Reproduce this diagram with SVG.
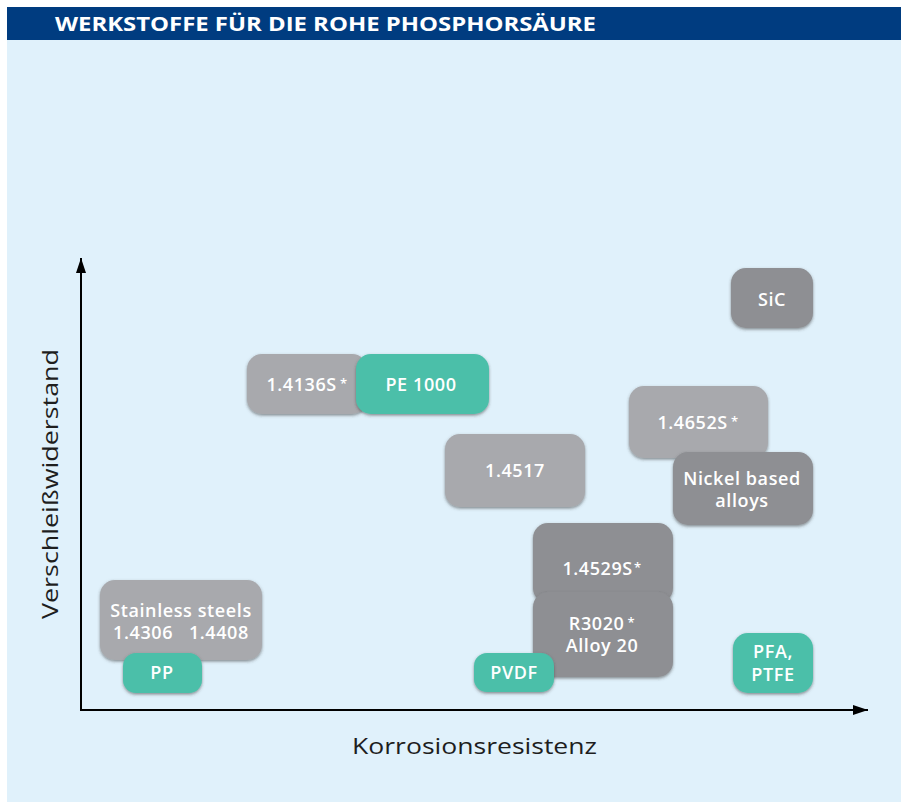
<svg xmlns="http://www.w3.org/2000/svg" width="901" height="802" viewBox="0 0 901 802">
  <style>
    .title { font-family: "Open Sans", "Liberation Sans", sans-serif; font-weight: 700; font-size: 20px; fill: #ffffff; }
    .axis-label { font-family: "Open Sans", "Liberation Sans", sans-serif; font-size: 21.5px; fill: #1e1e1e; }
    .lbl { font-family: "Open Sans", "Liberation Sans", sans-serif; font-size: 18px; font-weight: 600; fill: #ffffff; text-anchor: middle; letter-spacing: 0.6px; }
    .ast { font-size: 13px; }
    .light { fill: #a8a9ad; }
    .dark { fill: #8e8f93; }
    .teal { fill: #4bbfa9; }
    .box { filter: url(#shadow); }
    .axis { stroke: #000000; stroke-width: 2; fill: none; }
  </style>
  <defs>
    <filter id="shadow" x="-20%" y="-20%" width="140%" height="150%">
      <feDropShadow dx="0" dy="1.5" stdDeviation="1.6" flood-color="#3a3a3a" flood-opacity="0.55"/>
    </filter>
    <marker id="arrow" viewBox="0 0 15 10" refX="15" refY="5" markerWidth="7.5" markerHeight="5" markerUnits="strokeWidth" orient="auto">
      <path d="M0,0 L15,5 L0,10 Z" fill="#000000"/>
    </marker>
  </defs>

  <!-- background panel and header bar -->
  <rect x="7" y="7" width="894" height="795" fill="#e0f1fb"/>
  <rect x="7" y="7" width="894" height="33" fill="#003c80"/>
  <text class="title" x="55" y="31" textLength="541" lengthAdjust="spacingAndGlyphs">WERKSTOFFE FÜR DIE ROHE PHOSPHORSÄURE</text>

  <!-- axes -->
  <g id="connectors">
    <line class="axis" x1="81" y1="710" x2="81" y2="258" marker-end="url(#arrow)"/>
    <line class="axis" x1="80" y1="710" x2="868" y2="710" marker-end="url(#arrow)"/>
  </g>
  <text class="axis-label" x="352" y="754" textLength="245" lengthAdjust="spacingAndGlyphs">Korrosionsresistenz</text>
  <text class="axis-label" transform="translate(58,619) rotate(-90)" x="0" y="0" textLength="270" lengthAdjust="spacingAndGlyphs">Verschleißwiderstand</text>

  <!-- material nodes -->
  <g id="sic">
    <rect class="box dark" x="731" y="268" width="82" height="60" rx="15"/>
    <text class="lbl" x="772" y="306">SiC</text>
  </g>
  <g id="n14652">
    <rect class="box light" x="629" y="386" width="139" height="72" rx="15"/>
    <text class="lbl" x="698" y="429">1.4652S<tspan class="ast" dx="3" dy="-3">*</tspan></text>
  </g>
  <g id="nickel">
    <rect class="box dark" x="673" y="452" width="140" height="73" rx="15"/>
    <text class="lbl" x="742" y="485">Nickel based</text>
    <text class="lbl" x="742" y="507">alloys</text>
  </g>
  <g id="n14136">
    <rect class="box light" x="247" y="354" width="120" height="60" rx="15"/>
    <text class="lbl" x="307" y="391">1.4136S<tspan class="ast" dx="3" dy="-3">*</tspan></text>
  </g>
  <g id="pe1000">
    <rect class="box teal" x="356" y="354" width="133" height="60" rx="15"/>
    <text class="lbl" x="421" y="391">PE 1000</text>
  </g>
  <g id="n14517">
    <rect class="box light" x="445" y="434" width="140" height="73" rx="15"/>
    <text class="lbl" x="515" y="477">1.4517</text>
  </g>
  <g id="n14529">
    <rect class="box dark" x="533" y="523" width="140" height="80" rx="15"/>
    <text class="lbl" x="602" y="575">1.4529S<tspan class="ast" dx="1" dy="-3">*</tspan></text>
  </g>
  <g id="r3020">
    <rect class="box dark" x="533" y="592" width="140" height="85" rx="15"/>
    <text class="lbl" x="602" y="630">R3020<tspan class="ast" dx="3" dy="-3">*</tspan></text>
    <text class="lbl" x="602" y="652">Alloy 20</text>
  </g>
  <g id="pvdf">
    <rect class="box teal" x="474" y="653" width="80" height="39" rx="13"/>
    <text class="lbl" x="514" y="679">PVDF</text>
  </g>
  <g id="stainless">
    <rect class="box light" x="100" y="580" width="162" height="80" rx="15"/>
    <text class="lbl" x="181" y="617">Stainless steels</text>
    <text class="lbl" x="181" y="639" xml:space="preserve">1.4306   1.4408</text>
  </g>
  <g id="pp">
    <rect class="box teal" x="123" y="653" width="79" height="40" rx="13"/>
    <text class="lbl" x="162" y="679">PP</text>
  </g>
  <g id="pfa">
    <rect class="box teal" x="733" y="633" width="80" height="60" rx="15"/>
    <text class="lbl" x="773" y="658">PFA,</text>
    <text class="lbl" x="773" y="681">PTFE</text>
  </g>
</svg>
